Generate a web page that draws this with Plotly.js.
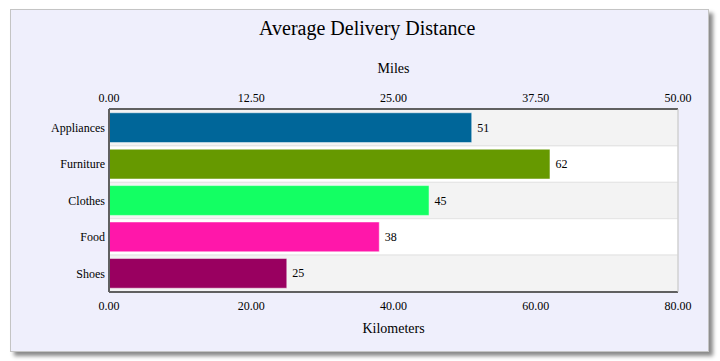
<!DOCTYPE html>
<html>
<head>
<meta charset="utf-8">
<script src="https://cdn.plot.ly/plotly-3.0.1.min.js"></script>
<style>
  html, body { margin: 0; padding: 0; background: #ffffff; }
  #wrap { position: relative; width: 720px; height: 361px; overflow: hidden; }
  #card { position: absolute; left: 10px; top: 9px; width: 697px; height: 341px;
          background: #efeffc; border: 1px solid #c4c4c4;
          box-shadow: 4px 4px 4px #8a8a8a; }
  #chart { position: absolute; left: 0; top: 0; width: 720px; height: 361px; }
</style>
</head>
<body>
<div id="wrap">
  <div id="card"></div>
  <div id="chart"></div>
</div>
<script>
const categories = ["Appliances", "Furniture", "Clothes", "Food", "Shoes"];
const kilometers = [51, 62, 45, 38, 25];
const barColors = ["#006699", "#669900", "#13ff63", "#ff17aa", "#990060"];
const kmTicks = [0, 20, 40, 60, 80];
const mileTicks = [0, 12.5, 25, 37.5, 50];

const font = "'Liberation Serif', 'Times New Roman', serif";

// alternating row bands built from the categories
const shapes = categories.map((c, i) => ({
  type: "rect", xref: "paper", yref: "y", layer: "below",
  x0: 0, x1: 1, y0: i - 0.5, y1: i + 0.5,
  fillcolor: i % 2 === 0 ? "#f3f3f3" : "#ffffff",
  line: { color: "#e4e4e4", width: 1 }
}));
// frame: dark top/left/bottom, light right
shapes.push(
  { type: "line", xref: "paper", yref: "paper", x0: 0, x1: 1, y0: 1, y1: 1, line: { color: "#606060", width: 2 } },
  { type: "line", xref: "paper", yref: "paper", x0: 0, x1: 1, y0: 0, y1: 0, line: { color: "#606060", width: 2 } },
  { type: "line", xref: "paper", yref: "paper", x0: 0, x1: 0, y0: 0, y1: 1, line: { color: "#606060", width: 2 } },
  { type: "line", xref: "paper", yref: "paper", x0: 1, x1: 1, y0: 0, y1: 1, line: { color: "#c8c8c8", width: 1 } }
);

const traces = [
  {
    type: "bar", orientation: "h",
    x: kilometers, y: categories,
    marker: { color: barColors, line: { color: "rgba(255,255,255,0.5)", width: 1 } },
    width: 0.82,
    text: kilometers.map(v => "\u2009" + v), textposition: "outside",
    textfont: { family: font, size: 12, color: "#000" },
    cliponaxis: false,
    hoverinfo: "x+y",
    xaxis: "x", yaxis: "y"
  },
  {
    type: "scatter", mode: "markers",
    x: [mileTicks[0], mileTicks[mileTicks.length - 1]], y: [categories[0], categories[0]],
    marker: { opacity: 0 }, hoverinfo: "skip", showlegend: false,
    xaxis: "x2", yaxis: "y"
  }
];

const layout = {
  width: 720, height: 361,
  paper_bgcolor: "rgba(0,0,0,0)",
  plot_bgcolor: "rgba(0,0,0,0)",
  margin: { l: 109, r: 42, t: 109, b: 69 },
  showlegend: false,
  font: { family: font, size: 12, color: "#000" },
  title: {
    text: "Average Delivery Distance",
    font: { family: font, size: 20, color: "#000" },
    xref: "container", x: 0.51, xanchor: "center",
    yref: "container", y: 0.922, yanchor: "middle"
  },
  xaxis: {
    range: [kmTicks[0], kmTicks[kmTicks.length - 1]],
    tickvals: kmTicks, ticktext: kmTicks.map(v => v.toFixed(2)),
    showgrid: false, zeroline: false, showline: false,
    ticks: "", ticklen: 0, automargin: false, ticklabelstandoff: 5,
    tickfont: { family: font, size: 12, color: "#000" },
    title: { text: "Kilometers", font: { family: font, size: 14, color: "#000" }, standoff: 11 }
  },
  xaxis2: {
    overlaying: "x", side: "top",
    range: [mileTicks[0], mileTicks[mileTicks.length - 1]],
    tickvals: mileTicks, ticktext: mileTicks.map(v => v.toFixed(2)),
    showgrid: false, zeroline: false, showline: false,
    ticks: "", automargin: false, ticklabelstandoff: 4,
    tickfont: { family: font, size: 12, color: "#000" },
    title: { text: "Miles", font: { family: font, size: 14, color: "#000" }, standoff: 13 }
  },
  yaxis: {
    type: "category", categoryorder: "array", categoryarray: categories,
    autorange: "reversed",
    showgrid: false, zeroline: false, showline: false,
    ticks: "", automargin: false, ticklabelstandoff: 3,
    tickfont: { family: font, size: 12, color: "#000" }
  },
  shapes: shapes,
  bargap: 0.18
};

Plotly.newPlot("chart", traces, layout, { displayModeBar: false, staticPlot: true });
</script>
</body>
</html>
